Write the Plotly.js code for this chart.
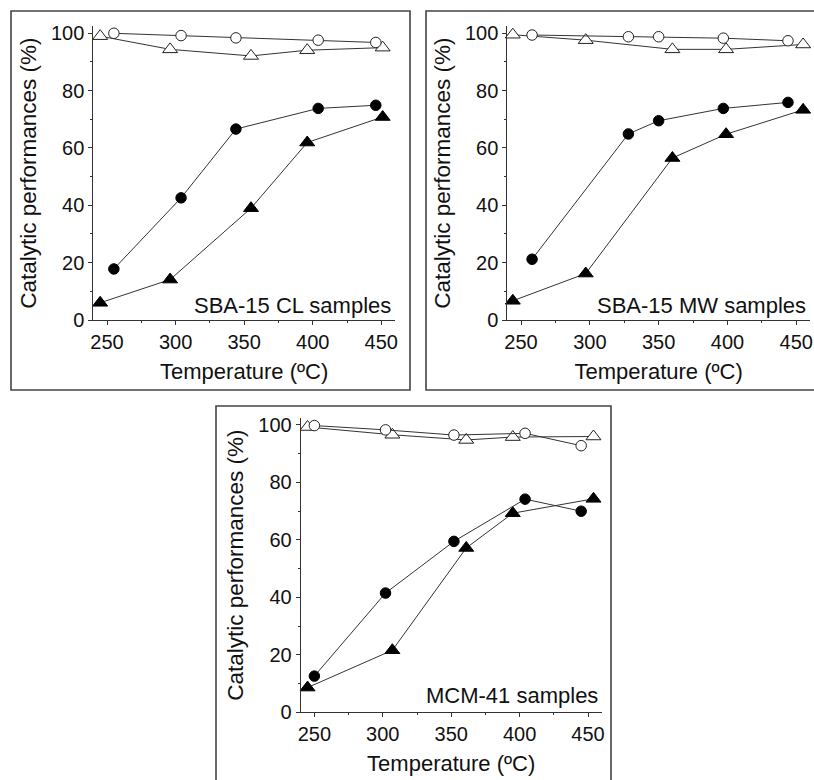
<!DOCTYPE html>
<html>
<head>
<meta charset="utf-8">
<script src="https://cdn.plot.ly/plotly-3.0.1.min.js"></script>
<style>html,body{margin:0;padding:0;background:#fff;}#chart{width:814px;height:780px;}</style>
</head>
<body>
<div id="chart"></div>
<script>
// ---- Data ----
// Panel 1: SBA-15 CL samples
const clCircleX = [255, 304, 344, 404, 446];
const clOpenCircleY = [100, 99.2, 98.4, 97.6, 96.8];
const clFillCircleY = [17.8, 42.6, 66.6, 73.8, 74.9];
const clTriX = [245, 296, 355, 396, 451];
const clOpenTriY = [99.0, 94.4, 92.1, 94.1, 95.0];
const clFillTriY = [6.0, 14.1, 39.0, 61.9, 70.8];

// Panel 2: SBA-15 MW samples
const mwCircleX = [258, 328, 350, 397, 444];
const mwOpenCircleY = [99.4, 98.8, 98.8, 98.3, 97.4];
const mwFillCircleY = [21.2, 64.9, 69.5, 73.8, 75.9];
const mwTriX = [244, 297, 360, 399, 455];
const mwOpenTriY = [99.5, 97.6, 94.4, 94.4, 96.1];
const mwFillTriY = [6.7, 16.2, 56.5, 64.8, 73.3];

// Panel 3: MCM-41 samples
const mcmCircleX = [250, 302, 352, 404, 445];
const mcmOpenCircleY = [99.8, 98.3, 96.5, 97.1, 92.8];
const mcmFillCircleY = [12.6, 41.5, 59.5, 74.2, 70.0];
const mcmTriX = [245, 307, 361, 395, 454];
const mcmOpenTriY = [99.3, 96.6, 94.8, 95.8, 96.0];
const mcmFillTriY = [8.6, 21.6, 57.2, 69.3, 74.3];

const panelLabels = ["SBA-15 CL samples", "SBA-15 MW samples", "MCM-41 samples"];
const xTitle = "Temperature (ºC)";
const yTitle = "Catalytic performances (%)";
const xTickVals = [250, 300, 350, 400, 450];
const yTickVals = [0, 20, 40, 60, 80, 100];

// ---- Build ----
const W = 814, H = 780;
const FONT = "Liberation Sans, Arial, Helvetica, sans-serif";
const INK = "#111";
const LINE = "#333";

function series(x, y, symbol, filled, xa, ya) {
  return {
    x: x, y: y, xaxis: xa, yaxis: ya, type: "scatter", mode: "lines+markers",
    cliponaxis: false, showlegend: false, hoverinfo: "x+y",
    line: {color: LINE, width: 1},
    marker: {
      symbol: symbol,
      size: symbol === "circle" ? 10.5 : 13,
      color: filled ? "#000" : "#fff",
      line: {color: filled ? "#000" : "#222", width: 1}
    }
  };
}

const panels = [
  {cx: clCircleX, oc: clOpenCircleY, fc: clFillCircleY, tx: clTriX, ot: clOpenTriY, ft: clFillTriY},
  {cx: mwCircleX, oc: mwOpenCircleY, fc: mwFillCircleY, tx: mwTriX, ot: mwOpenTriY, ft: mwFillTriY},
  {cx: mcmCircleX, oc: mcmOpenCircleY, fc: mcmFillCircleY, tx: mcmTriX, ot: mcmOpenTriY, ft: mcmFillTriY}
];

// pixel geometry of each plot area: left, right, y(0) pixel, y(100) pixel
const geo = [
  {l: 93.3, r: 395.0, y0: 320.0, y100: 33.3},
  {l: 507.3, r: 810.0, y0: 320.0, y100: 33.3},
  {l: 300.7, r: 601.7, y0: 712.3, y100: 425.0}
];
const YMAX = 102.5;

const data = [];
const layout = {
  width: W, height: H,
  margin: {l: 0, r: 0, t: 0, b: 0, pad: 0},
  paper_bgcolor: "#fff", plot_bgcolor: "rgba(0,0,0,0)",
  font: {family: FONT, color: INK, size: 20},
  showlegend: false,
  annotations: [],
  shapes: []
};

panels.forEach((p, i) => {
  const n = i + 1;
  const xa = "x" + (n === 1 ? "" : n), ya = "y" + (n === 1 ? "" : n);
  data.push(series(p.tx, p.ot, "triangle-up", false, xa, ya));
  data.push(series(p.cx, p.oc, "circle", false, xa, ya));
  data.push(series(p.tx, p.ft, "triangle-up", true, xa, ya));
  data.push(series(p.cx, p.fc, "circle", true, xa, ya));

  const g = geo[i];
  const pxPerUnit = (g.y0 - g.y100) / 100;
  const yTopPx = g.y0 - YMAX * pxPerUnit;
  const axCommon = {
    showline: true, linecolor: LINE, linewidth: 1,
    showgrid: false, zeroline: false, mirror: false,
    ticks: "outside", ticklen: 4, tickwidth: 1, tickcolor: LINE,
    tickfont: {family: FONT, size: 20, color: INK},
    fixedrange: true
  };
  layout["xaxis" + (n === 1 ? "" : n)] = Object.assign({}, axCommon, {
    domain: [g.l / W, g.r / W], range: [240, 460], anchor: ya,
    tickvals: xTickVals, ticktext: xTickVals.map(String),
    minor: {tickvals: [275, 325, 375, 425], ticks: "outside", ticklen: 2, tickcolor: LINE, tickwidth: 1},
    title: {text: xTitle, font: {family: FONT, size: 22, color: INK}, standoff: 11}
  });
  layout["yaxis" + (n === 1 ? "" : n)] = Object.assign({}, axCommon, {
    domain: [1 - g.y0 / H, 1 - yTopPx / H], range: [0, YMAX], anchor: xa,
    tickvals: yTickVals, ticktext: yTickVals.map(String),
    minor: {tickvals: [10, 30, 50, 70, 90], ticks: "outside", ticklen: 2, tickcolor: LINE, tickwidth: 1},
    title: {text: yTitle, font: {family: FONT, size: 22.5, color: INK}, standoff: 8}
  });
  layout.annotations.push({
    xref: xa + " domain", yref: ya, x: 0.995, y: i === 2 ? 5.8 : 5.1,
    xanchor: "right", yanchor: "middle", showarrow: false,
    text: panelLabels[i], font: {family: FONT, size: 22, color: INK}
  });
});

// outer frames of the three panels (pixel boxes -> paper fractions)
const frames = [
  {x0: 11, y0: 11, x1: 410, y1: 390},
  {x0: 426, y0: 11, x1: 830, y1: 390},
  {x0: 216, y0: 406, x1: 611, y1: 800}
];
frames.forEach(f => {
  layout.shapes.push({
    type: "rect", xref: "paper", yref: "paper",
    x0: f.x0 / W, x1: f.x1 / W, y0: 1 - f.y1 / H, y1: 1 - f.y0 / H,
    line: {color: "#444", width: 1.6}, fillcolor: "rgba(0,0,0,0)", layer: "below"
  });
});

Plotly.newPlot("chart", data, layout, {displayModeBar: false, staticPlot: true});
</script>
</body>
</html>
